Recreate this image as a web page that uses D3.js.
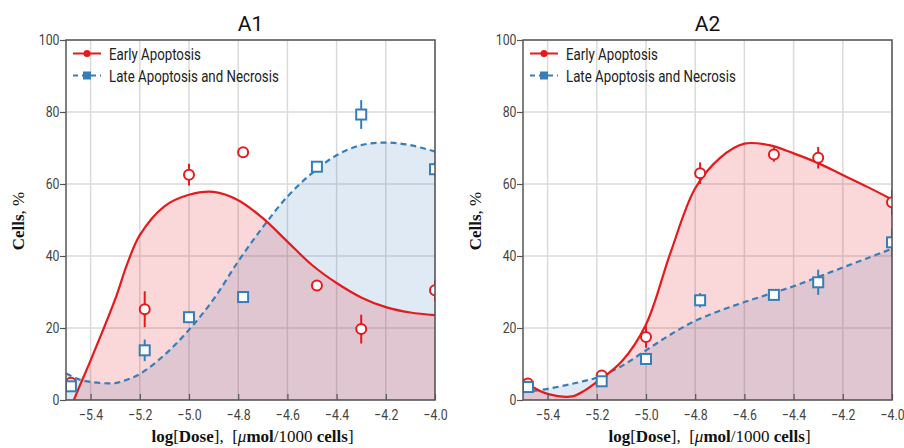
<!DOCTYPE html>
<html>
<head>
<meta charset="utf-8">
<script src="https://cdn.jsdelivr.net/npm/d3@7"></script>
<style>
  body { margin: 0; background: #fff; }
  svg { display: block; }
  .tick text { font-family: Roboto, sans-serif; font-size: 15px; fill: #444; }
  .lbl { font-family: "Liberation Serif", "DejaVu Serif", serif; font-size: 17px; fill: #111; }
</style>
</head>
<body>
<div id="chart"></div>
<script>
const width = 904, height = 448;

// measured doses (log scale)
const doses = [-5.48, -5.18, -5.0, -4.78, -4.48, -4.3, -4.0];

const a1Early    = [4.8, 25.2, 62.6, 68.8, 31.8, 19.7, 30.5];
const a1EarlyErr = [1, 5, 3, 1, 1.5, 4, 3];
const a1Late     = [3.8, 13.8, 23.0, 28.6, 64.8, 79.3, 64.1];
const a1LateErr  = [1, 3, 1.5, 1, 1.5, 4, 2];

const a2Early    = [4.6, 6.8, 17.5, 63.0, 68.2, 67.3, 54.9];
const a2EarlyErr = [1, 1, 3, 3, 2, 3, 3.5];
const a2Late     = [3.6, 5.2, 11.4, 27.7, 29.2, 32.7, 43.8];
const a2LateErr  = [1, 1, 1, 2, 1.5, 3.5, 4];

// fitted curves
const fitX       = [-5.5, -5.45, -5.4, -5.3, -5.25, -5.2, -5.1, -5.0, -4.9, -4.8, -4.7, -4.6, -4.5, -4.4, -4.3, -4.2, -4.1, -4.0];
const a1EarlyFit = [-5.5, 3, 11, 28, 38, 45.8, 53.8, 57, 57.8, 55.5, 50.5, 44, 37.5, 32.5, 28.5, 25.8, 24.3, 23.6];
const a1LateFit  = [7.4, 5.8, 5.0, 4.7, 5.7, 7.2, 12.5, 19.5, 28, 38.5, 48, 56.5, 63, 68, 70.8, 71.5, 70.8, 69];
const a2EarlyFit = [5.8, 3.2, 1.7, 1.0, 2.6, 5.0, 10.6, 21, 41, 58.8, 67.2, 71.2, 70.8, 68.5, 65.8, 62.5, 59.2, 55.7];
const a2LateFit  = [2.2, 2.6, 3.1, 4.5, 5.3, 6.2, 9.4, 13.8, 18.2, 22, 24.8, 27.2, 29.4, 31.6, 34.2, 36.8, 39.4, 42];

const xTicks = [-5.4, -5.2, -5.0, -4.8, -4.6, -4.4, -4.2, -4.0];
const yTicks = [0, 20, 40, 60, 80, 100];
const seriesNames = ["Early Apoptosis", "Late Apoptosis and Necrosis"];

const red = "#e41a1c", blue = "#377eb8";

const svg = d3.select("#chart").append("svg")
  .attr("width", width)
  .attr("height", height);

const panels = [
  { id: "a1", title: "A1", left: 66, early: a1Early, earlyErr: a1EarlyErr, late: a1Late, lateErr: a1LateErr, earlyFit: a1EarlyFit, lateFit: a1LateFit },
  { id: "a2", title: "A2", left: 523, early: a2Early, earlyErr: a2EarlyErr, late: a2Late, lateErr: a2LateErr, earlyFit: a2EarlyFit, lateFit: a2LateFit }
];

panels.forEach(drawPanel);

function drawPanel(p) {
  const pw = 369, top = 40, bottom = 400;
  const x = d3.scaleLinear().domain([-5.5, -4.0]).range([p.left, p.left + pw]);
  const y = d3.scaleLinear().domain([0, 100]).range([bottom, top]);

  svg.append("clipPath").attr("id", "clip-" + p.id)
    .append("rect")
    .attr("x", p.left).attr("y", top)
    .attr("width", pw).attr("height", bottom - top);

  const g = svg.append("g");

  // grid
  g.selectAll(".vgrid").data(xTicks).enter().append("line")
    .attr("x1", d => x(d)).attr("x2", d => x(d))
    .attr("y1", top).attr("y2", bottom)
    .attr("stroke", "#dadada").attr("stroke-width", 1.5);
  g.selectAll(".hgrid").data(yTicks).enter().append("line")
    .attr("x1", p.left).attr("x2", p.left + pw)
    .attr("y1", d => y(d)).attr("y2", d => y(d))
    .attr("stroke", "#dadada").attr("stroke-width", 1.5);

  const plot = g.append("g").attr("clip-path", "url(#clip-" + p.id + ")");

  const curve = d3.curveCatmullRom.alpha(0.5);
  const area = d3.area().curve(curve)
    .x(d => x(d[0])).y0(y(0)).y1(d => y(d[1]));
  const line = d3.line().curve(curve)
    .x(d => x(d[0])).y(d => y(d[1]));

  const earlyPts = fitX.map((v, i) => [v, p.earlyFit[i]]);
  const latePts = fitX.map((v, i) => [v, p.lateFit[i]]);

  plot.append("path").datum(latePts).attr("d", area)
    .attr("fill", blue).attr("fill-opacity", 0.16);
  plot.append("path").datum(earlyPts).attr("d", area)
    .attr("fill", red).attr("fill-opacity", 0.17);

  plot.append("path").datum(latePts).attr("d", line)
    .attr("fill", "none").attr("stroke", blue).attr("stroke-width", 2.2)
    .attr("stroke-dasharray", "6,4");
  plot.append("path").datum(earlyPts).attr("d", line)
    .attr("fill", "none").attr("stroke", red).attr("stroke-width", 2.2);

  // error bars
  function bars(vals, errs, color) {
    plot.selectAll(null).data(doses).enter().append("line")
      .attr("x1", d => x(d)).attr("x2", d => x(d))
      .attr("y1", (d, i) => y(vals[i] - errs[i]))
      .attr("y2", (d, i) => y(vals[i] + errs[i]))
      .attr("stroke", color).attr("stroke-width", 2);
  }
  bars(p.late, p.lateErr, blue);
  bars(p.early, p.earlyErr, red);

  plot.selectAll(null).data(doses).enter().append("circle")
    .attr("cx", d => x(d)).attr("cy", (d, i) => y(p.early[i]))
    .attr("r", 5).attr("fill", "#fff")
    .attr("stroke", red).attr("stroke-width", 2);
  plot.selectAll(null).data(doses).enter().append("rect")
    .attr("x", d => x(d) - 5).attr("y", (d, i) => y(p.late[i]) - 5)
    .attr("width", 10).attr("height", 10).attr("fill", "#fff")
    .attr("stroke", blue).attr("stroke-width", 2);

  // frame
  g.append("rect")
    .attr("x", p.left).attr("y", top).attr("width", pw).attr("height", bottom - top)
    .attr("fill", "none").attr("stroke", "#555").attr("stroke-width", 1.5);

  // axes
  const xAxis = g.append("g").attr("transform", `translate(0,${bottom})`)
    .call(d3.axisBottom(x).tickValues(xTicks).tickFormat(d3.format(".1f")).tickSize(-6).tickPadding(9));
  const yAxis = g.append("g").attr("transform", `translate(${p.left},0)`)
    .call(d3.axisLeft(y).tickValues(yTicks).tickSize(6).tickPadding(2));
  [xAxis, yAxis].forEach(a => {
    a.select(".domain").remove();
    a.selectAll(".tick line").attr("stroke", "#555").attr("stroke-width", 1.2);
  });
  xAxis.selectAll(".tick text").attr("transform", "scale(0.82,1)");
  yAxis.selectAll(".tick text").attr("transform", "scale(0.82,1)");

  // title
  svg.append("text")
    .attr("x", p.left + pw / 2).attr("y", 31)
    .attr("text-anchor", "middle")
    .style("font-family", "Roboto, sans-serif").style("font-size", "21px").attr("fill", "#111")
    .text(p.title);

  // legend
  const lg = svg.append("g").attr("transform", `translate(${p.left + 7},53.5)`);
  lg.append("line").attr("x1", 0).attr("x2", 28).attr("y1", 0).attr("y2", 0)
    .attr("stroke", red).attr("stroke-width", 2);
  lg.append("circle").attr("cx", 14).attr("cy", 0).attr("r", 3.5).attr("fill", red);
  lg.append("line").attr("x1", 0).attr("x2", 28).attr("y1", 22).attr("y2", 22)
    .attr("stroke", blue).attr("stroke-width", 2).attr("stroke-dasharray", "5,4");
  lg.append("rect").attr("x", 10).attr("y", 18).attr("width", 8).attr("height", 8).attr("fill", blue);
  lg.selectAll(".ltxt").data(seriesNames).enter().append("text")
    .attr("transform", (d, i) => `translate(36,${i * 22 + 6}) scale(0.83,1)`)
    .style("font-family", "Roboto, sans-serif").style("font-size", "16px").attr("fill", "#222")
    .text(d => d);

  // axis labels
  const xl = svg.append("text").attr("class", "lbl")
    .attr("x", p.left + pw / 2 + 2).attr("y", 442).attr("text-anchor", "middle");
  xl.append("tspan").attr("font-weight", "bold").text("log");
  xl.append("tspan").text("[");
  xl.append("tspan").attr("font-weight", "bold").text("Dose");
  xl.append("tspan").text("],\u00a0\u00a0[");
  xl.append("tspan").attr("font-style", "italic").text("μ");
  xl.append("tspan").attr("font-weight", "bold").text("mol");
  xl.append("tspan").text("/1000 ");
  xl.append("tspan").attr("font-weight", "bold").text("cells");
  xl.append("tspan").text("]");

  const yl = svg.append("text").attr("class", "lbl")
    .style("font-size", "17px")
    .attr("transform", `translate(${p.left - 42},221) rotate(-90)`)
    .attr("text-anchor", "middle");
  yl.append("tspan").attr("font-weight", "bold").text("Cells");
  yl.append("tspan").text(", %");
}
</script>
</body>
</html>
